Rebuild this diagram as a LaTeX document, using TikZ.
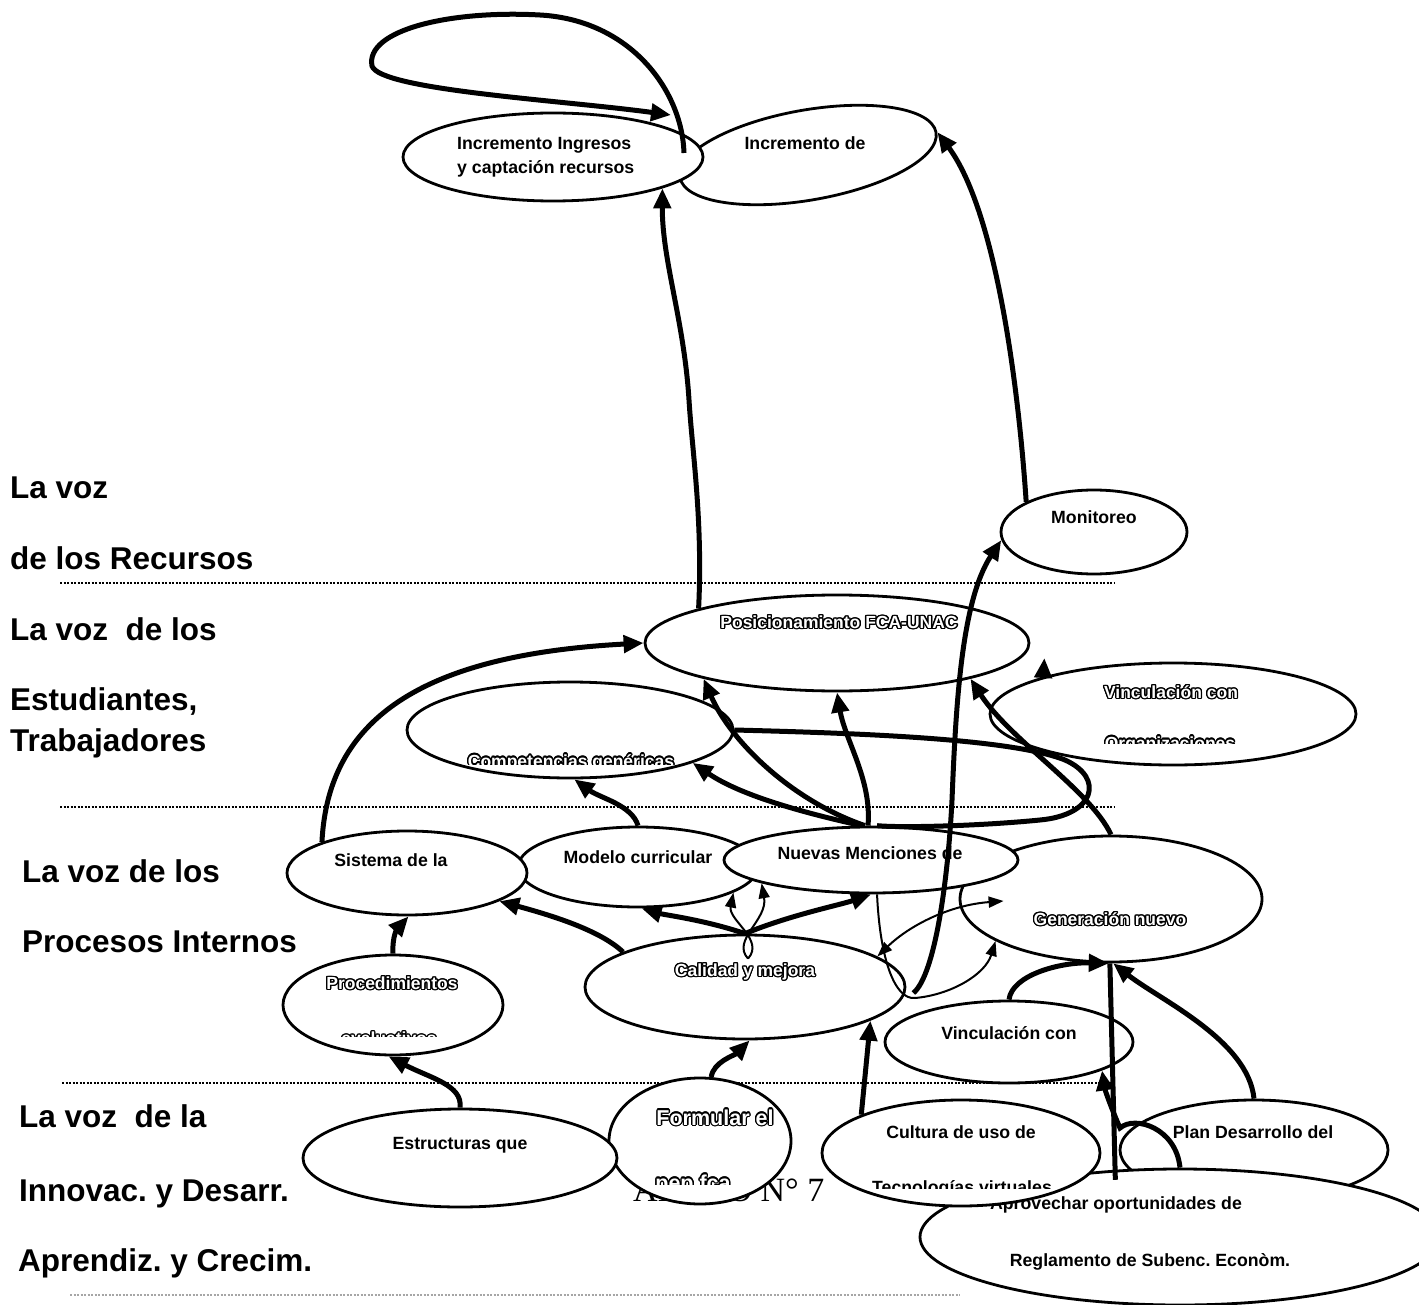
\documentclass[tikz,border=0pt]{standalone}
\usepackage{fontspec}
\setmainfont{Liberation Sans}
\newfontfamily\anexofont{Liberation Serif}
\usepackage{contour}
\contourlength{1.3pt}
\newcommand\olt[1]{\contour{black}{#1}}
\frenchspacing
\usetikzlibrary{shapes.geometric,arrows.meta,calc}
\begin{document}
\begin{tikzpicture}[x=1pt,y=-1pt,
  ell/.style n args={2}{ellipse, draw, line width=2.8pt, fill=white, inner sep=0pt, minimum width=#1, minimum height=#2},
  thk/.style={line width=5pt, -{Triangle[length=20pt,width=17pt]}},
  thkl/.style={line width=5pt},
  thn/.style={line width=2pt, -{Triangle[length=15pt,width=11pt]}},
  thnb/.style={line width=2pt, {Triangle[length=15pt,width=11pt]}-{Triangle[length=15pt,width=11pt]}},
  lbl/.style={anchor=base west, inner sep=0pt, font=\fontsize{31.5}{36}\selectfont\bfseries},
  etx/.style={anchor=base, inner sep=0pt, font=\fontsize{17.7}{20}\selectfont\bfseries},
  otx/.style={anchor=base, inner sep=0pt, text=white, font=\fontsize{17.5}{20}\selectfont\bfseries},
  dl/.style={line width=2pt, dash pattern=on 2pt off 1.5pt}
]
\useasboundingbox (0,0) rectangle (1419,1305);
\fill[white] (0,0) rectangle (1419,1305);
\clip (0,0) rectangle (1419,1305);

% dividers
\draw[dl] (60,583) -- (1115,583);
\draw[dl] (60,807) -- (1115,807);
\draw[dl] (62,1083) -- (1115,1083);
\draw[dl, black!35] (70,1295) -- (960,1295);

% left labels
\node[lbl] (l1) at (10,498) {La voz};
\node[lbl] (l2) at (10,569) {de los Recursos};
\node[lbl] (l3) at (10,640) {La voz\ \ de los};
\node[lbl] (l4) at (10,710) {Estudiantes,};
\node[lbl] (l5) at (10,751) {Trabajadores};
\node[lbl] (l6) at (22,882) {La voz de los};
\node[lbl] (l7) at (22,952) {Procesos Internos};
\node[lbl] (l8) at (19,1127) {La voz\ \ de la};
\node[lbl] (l9) at (19,1201) {Innovac. y Desarr.};
\node[lbl] (l10) at (18,1271) {Aprendiz. y Crecim.};

% page text behind
\node[anchor=base west, inner sep=0pt, font=\anexofont\fontsize{34}{38}\selectfont] (anexo) at (633,1201) {ANEXO N° 7};

% ellipses and their texts
\node[ell={260pt}{90pt}, rotate=10] (IncDe) at (808,155) {};
\node[etx] (tIncDe) at (805,149.3) {Incremento de};
\node[ell={300pt}{88pt}] (IncIng) at (553,157) {};
\node[etx, anchor=base west] (tInc1) at (457,149.3) {Incremento Ingresos};
\node[etx, anchor=base west] (tInc2) at (457,173.3) {y captación recursos};

\node[ell={186pt}{84pt}] (Monit) at (1094,532) {};
\node[etx] (tMonit) at (1094,523.3) {Monitoreo};

\node[ell={326pt}{96pt}] (Comp) at (570,730) {};
\begin{scope}
\clip (400,700) rectangle (750,764);
\node[otx] (tComp) at (571,767) {\olt{Competencias genéricas}};
\end{scope}

\node[ell={384pt}{96pt}] (Pos) at (837,643) {};
\node[otx] (tPos) at (839,628.3) {\olt{Posicionamiento FCA-UNAC}};

\node[ell={366pt}{102pt}] (VincOrg) at (1173,714) {};
\node[otx] (tVO1) at (1171,698.3) {\olt{Vinculación con}};
\begin{scope}
\clip (1050,720) rectangle (1300,743);
\node[otx] (tVO2) at (1170,749) {\olt{Organizaciones}};
\end{scope}

\node[ell={240pt}{80pt}] (Model) at (638,867) {};
\node[etx] (tModel) at (638,863.3) {Modelo curricular};
\node[ell={240pt}{84pt}] (Sist) at (407,873) {};
\node[etx] (tSist) at (391,866.3) {Sistema de la};

\node[ell={302pt}{126pt}] (Gen) at (1111,899) {};
\node[otx] (tGen) at (1110,925.3) {\olt{Generación nuevo}};
\node[ell={294pt}{66pt}] (Nuev) at (871,860) {};
\node[etx] (tNuev) at (870,859.3) {Nuevas Menciones de};

\node[ell={220pt}{100pt}] (Proc) at (393,1005) {};
\node[otx] (tProc1) at (392,989.3) {\olt{Procedimientos}};
\begin{scope}
\clip (300,1020) rectangle (480,1036);
\node[otx] (tProc2) at (389,1044.5) {\olt{evaluativos}};
\end{scope}

\node[ell={320pt}{104pt}] (Cal) at (745,987) {};
\node[otx] (tCal) at (745,976.3) {\olt{Calidad y mejora}};

\node[ell={248pt}{82pt}] (VincCon) at (1009,1042) {};
\node[etx] (tVC) at (1009,1039.3) {Vinculación con};

\node[ell={182pt}{126pt}] (Form) at (700,1141) {};
\node[otx, font=\fontsize{21.5}{24}\selectfont\bfseries] (tForm1) at (715,1125) {\olt{Formular el}};
\begin{scope}
\clip (640,1150) rectangle (790,1184);
\node[otx, font=\fontsize{21.5}{24}\selectfont\bfseries] (tForm2) at (693,1190) {\olt{pep fca}};
\end{scope}

\node[ell={314pt}{98pt}] (Estr) at (460,1158) {};
\node[etx] (tEstr) at (460,1149.3) {Estructuras que};

\node[ell={268pt}{100pt}] (Plan) at (1254,1150) {};
\node[etx] (tPlan) at (1253,1138.3) {Plan Desarrollo del};

\node[ell={520pt}{136pt}] (Aprov) at (1180,1237) {};
\node[etx] (tAp1) at (1116,1209.3) {Aprovechar oportunidades de};
\node[etx] (tAp2) at (1150,1266.3) {Reglamento de Subenc. Econòm.};

\node[ell={278pt}{106pt}] (Cult) at (961,1153) {};
\node[etx] (tCult1) at (961,1138.3) {Cultura de uso de};
\begin{scope}
\clip (860,1170) rectangle (1070,1188);
\node[etx] (tCult2) at (962,1193) {Tecnologías virtuales};
\end{scope}

% ---------- connectors ----------
\coordinate (loopS) at ($(IncIng.center)+(131,-4)$);
\coordinate (loopE) at ($(IncIng.center)+(118,-42)$);
\draw[thk] (loopS) .. controls (682,90) and (630,20) .. (540,15)
  .. controls (450,10) and (365,30) .. (372,66)
  .. controls (380,90) and (560,100) .. (loopE);

\draw[thk] (Pos.166) .. controls (703,520) and (692,450) .. (689,400)
  .. controls (684,320) and (662,260) .. (IncIng.-16);

\draw[thk] (Monit.156) .. controls (1018,380) and (995,210) .. (IncDe.east);

\draw[thk] (Sist.160) .. controls (328,720) and (420,655) .. (Pos.west);

\coordinate (cm0) at ($(Cal.east)+(7,6)$);
\draw[thk] (cm0) .. controls (935,975) and (948,880) .. (952,800)
  .. controls (956,700) and (962,600) .. (Monit.185);

\draw[thk] (Nuev.95) .. controls (872,780) and (845,740) .. (Pos.south);
\draw[thk] (Nuev.100) .. controls (790,800) and (730,740) .. (Pos.195);
\draw[thk] (Nuev.105) .. controls (800,812) and (740,795) .. (Comp.-15);
\draw[thk] (Model.north) .. controls (632,805) and (600,798) .. (Comp.-85);

\draw[thkl] (Comp.east) .. controls (850,733) and (1010,738) .. (1065,760)
  .. controls (1105,778) and (1095,815) .. (1040,820)
  .. controls (980,826) and (900,828) .. (Nuev.80);

\draw[thk] (Gen.north) .. controls (1090,790) and (1010,740) .. (Pos.-15);
\coordinate (posR) at ($(Pos.east)+(14,15)$);
\draw[thk] (VincOrg.164) -- (posR);

\draw[thk] (Cal.164) .. controls (600,930) and (550,915) .. (Sist.-17);
\draw[thk] (Cal.north) .. controls (705,920) and (665,915) .. (Model.-85);
\draw[thk] (Cal.north) .. controls (790,915) and (840,905) .. (Nuev.-90);

\coordinate (vb) at ($(Cal.north)+(3,25)$);
\draw[thn] (vb) .. controls (765,940) and (728,920) .. (Model.-15);
\draw[thn] (vb) .. controls (731,940) and (768,920) .. (Nuev.192);

\draw[thn] (Nuev.-80) .. controls (880,960) and (895,1000) .. (915,998)
  .. controls (950,995) and (985,975) .. (Gen.200);
\coordinate (genin) at ($(Gen.west)+(45,2)$);
\draw[thnb] (Cal.13) .. controls (910,925) and (950,905) .. (genin);

\draw[thk] (Proc.north) .. controls (392,935) and (398,928) .. (Sist.-88);
\draw[thk] (Estr.north) .. controls (463,1085) and (430,1078) .. (Proc.-95);
\draw[thk] (Form.80) .. controls (713,1062) and (735,1055) .. (Cal.-85);
\draw[thk] (Cult.159) -- (Cal.-15);

\draw[thk] (VincCon.north) .. controls (1012,975) and (1060,962) .. (Gen.-92);
\draw[thk] (Plan.north) .. controls (1248,1040) and (1160,1000) .. (Gen.-88);
\draw[thkl, shorten <=-10pt] (Aprov.134) -- (Gen.-91);
\draw[thk] (Aprov.north) .. controls (1176,1128) and (1135,1115) .. (1120,1128)
  .. controls (1112,1110) and (1105,1090) .. (VincCon.-17);
\end{tikzpicture}
\end{document}
